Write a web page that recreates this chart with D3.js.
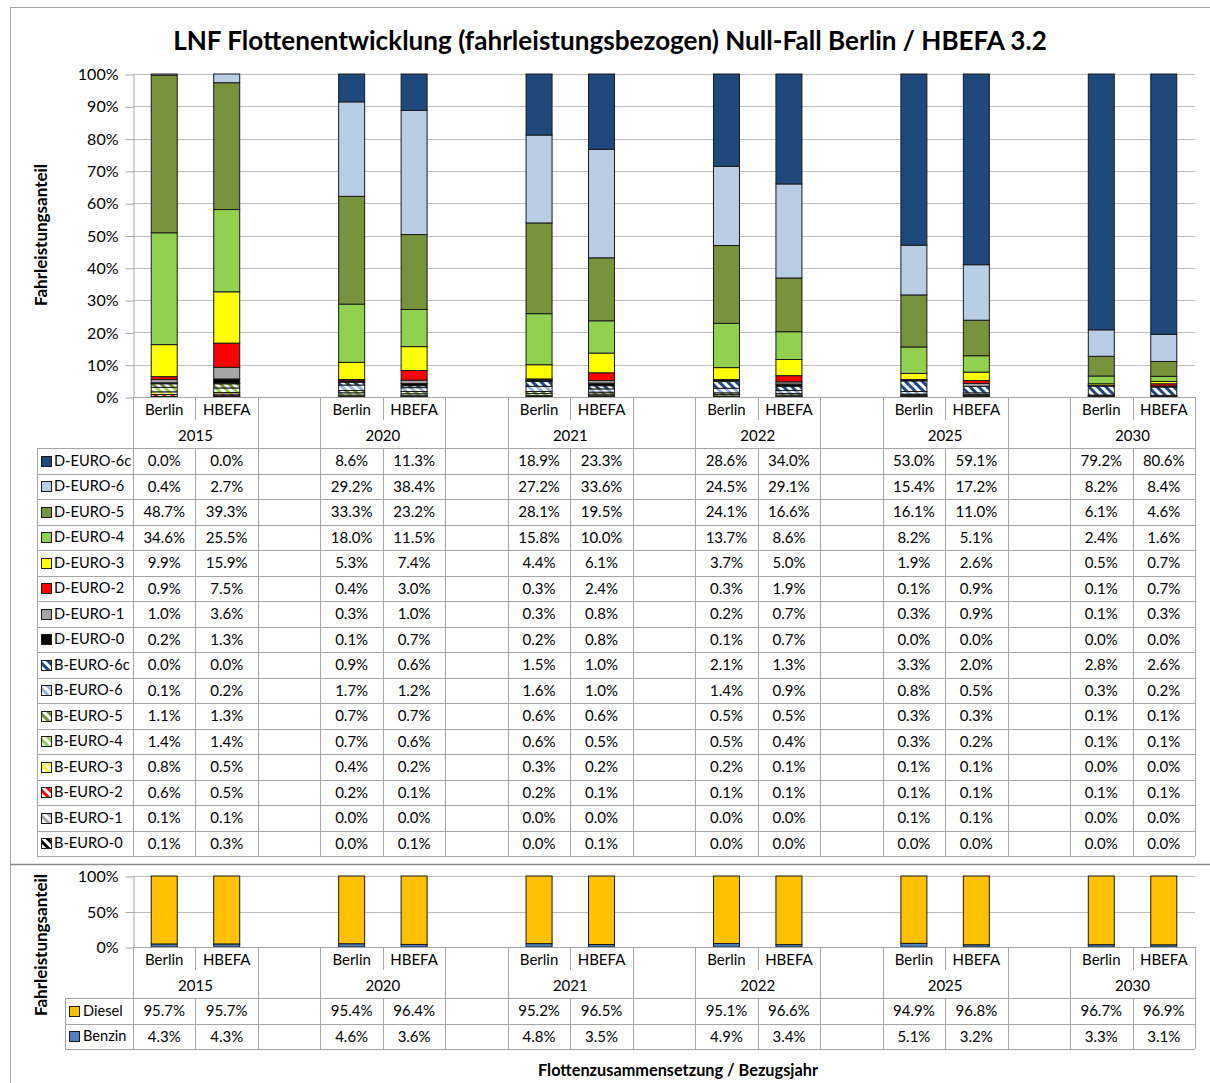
<!DOCTYPE html>
<html><head><meta charset="utf-8">
<script src="https://cdn.jsdelivr.net/npm/d3@7"></script>
<style>
body{margin:0;background:#fff}
svg text{font-family:Lato,"Open Sans",sans-serif;fill:#000}
</style>
</head><body>
<svg id="chart" width="1210" height="1083"></svg>
<script>
// ---------- DATA ----------
const title = "LNF Flottenentwicklung (fahrleistungsbezogen) Null-Fall Berlin / HBEFA 3.2";
const yAxisTitle = "Fahrleistungsanteil";
const xAxisTitle = "Flottenzusammensetzung / Bezugsjahr";
const years = ["2015", "2020", "2021", "2022", "2025", "2030"];
const scenarios = ["Berlin", "HBEFA"];
const topTicks = [0, 0.1, 0.2, 0.3, 0.4, 0.5, 0.6, 0.7, 0.8, 0.9, 1.0];
const bottomTicks = [0, 0.5, 1.0];

// values in order: 2015 Berlin, 2015 HBEFA, 2020 Berlin, 2020 HBEFA, ...
const dEuro6c = [0.0, 0.0, 8.6, 11.3, 18.9, 23.3, 28.6, 34.0, 53.0, 59.1, 79.2, 80.6];
const dEuro6  = [0.4, 2.7, 29.2, 38.4, 27.2, 33.6, 24.5, 29.1, 15.4, 17.2, 8.2, 8.4];
const dEuro5  = [48.7, 39.3, 33.3, 23.2, 28.1, 19.5, 24.1, 16.6, 16.1, 11.0, 6.1, 4.6];
const dEuro4  = [34.6, 25.5, 18.0, 11.5, 15.8, 10.0, 13.7, 8.6, 8.2, 5.1, 2.4, 1.6];
const dEuro3  = [9.9, 15.9, 5.3, 7.4, 4.4, 6.1, 3.7, 5.0, 1.9, 2.6, 0.5, 0.7];
const dEuro2  = [0.9, 7.5, 0.4, 3.0, 0.3, 2.4, 0.3, 1.9, 0.1, 0.9, 0.1, 0.7];
const dEuro1  = [1.0, 3.6, 0.3, 1.0, 0.3, 0.8, 0.2, 0.7, 0.3, 0.9, 0.1, 0.3];
const dEuro0  = [0.2, 1.3, 0.1, 0.7, 0.2, 0.8, 0.1, 0.7, 0.0, 0.0, 0.0, 0.0];
const bEuro6c = [0.0, 0.0, 0.9, 0.6, 1.5, 1.0, 2.1, 1.3, 3.3, 2.0, 2.8, 2.6];
const bEuro6  = [0.1, 0.2, 1.7, 1.2, 1.6, 1.0, 1.4, 0.9, 0.8, 0.5, 0.3, 0.2];
const bEuro5  = [1.1, 1.3, 0.7, 0.7, 0.6, 0.6, 0.5, 0.5, 0.3, 0.3, 0.1, 0.1];
const bEuro4  = [1.4, 1.4, 0.7, 0.6, 0.6, 0.5, 0.5, 0.4, 0.3, 0.2, 0.1, 0.1];
const bEuro3  = [0.8, 0.5, 0.4, 0.2, 0.3, 0.2, 0.2, 0.1, 0.1, 0.1, 0.0, 0.0];
const bEuro2  = [0.6, 0.5, 0.2, 0.1, 0.2, 0.1, 0.1, 0.1, 0.1, 0.1, 0.1, 0.1];
const bEuro1  = [0.1, 0.1, 0.0, 0.0, 0.0, 0.0, 0.0, 0.0, 0.1, 0.1, 0.0, 0.0];
const bEuro0  = [0.1, 0.3, 0.0, 0.1, 0.0, 0.1, 0.0, 0.0, 0.0, 0.0, 0.0, 0.0];

const diesel = [95.7, 95.7, 95.4, 96.4, 95.2, 96.5, 95.1, 96.6, 94.9, 96.8, 96.7, 96.9];
const benzin = [4.3, 4.3, 4.6, 3.6, 4.8, 3.5, 4.9, 3.4, 5.1, 3.2, 3.3, 3.1];

// table order (top to bottom); stacking goes bottom up (reverse)
const emissionSeries = [
  {name: "D-EURO-6c", values: dEuro6c, color: "#1F497D", hatch: false},
  {name: "D-EURO-6",  values: dEuro6,  color: "#B9CDE5", hatch: false},
  {name: "D-EURO-5",  values: dEuro5,  color: "#77933C", hatch: false},
  {name: "D-EURO-4",  values: dEuro4,  color: "#92D050", hatch: false},
  {name: "D-EURO-3",  values: dEuro3,  color: "#FFFF00", hatch: false},
  {name: "D-EURO-2",  values: dEuro2,  color: "#FF0000", hatch: false},
  {name: "D-EURO-1",  values: dEuro1,  color: "#A6A6A6", hatch: false},
  {name: "D-EURO-0",  values: dEuro0,  color: "#000000", hatch: false},
  {name: "B-EURO-6c", values: bEuro6c, color: "#1F497D", hatch: true},
  {name: "B-EURO-6",  values: bEuro6,  color: "#95B3D7", hatch: true},
  {name: "B-EURO-5",  values: bEuro5,  color: "#77933C", hatch: true},
  {name: "B-EURO-4",  values: bEuro4,  color: "#92D050", hatch: true},
  {name: "B-EURO-3",  values: bEuro3,  color: "#FFFF00", hatch: true},
  {name: "B-EURO-2",  values: bEuro2,  color: "#FF0000", hatch: true},
  {name: "B-EURO-1",  values: bEuro1,  color: "#A6A6A6", hatch: true},
  {name: "B-EURO-0",  values: bEuro0,  color: "#000000", hatch: true}
];
const fuelSeries = [
  {name: "Diesel", values: diesel, color: "#FFC000", hatch: false},
  {name: "Benzin", values: benzin, color: "#4F81BD", hatch: false}
];

// ---------- LAYOUT ----------
const svg = d3.select("#chart");
const plotL = 133, plotR = 1195;
const gridColor = "#BFBFBF";
const lineColor = "#A6A6A6";
const fontSize = 15;

// slots: Berlin, HBEFA, gap per year
const slots = [];
const cols = [];
years.forEach((y, i) => {
  scenarios.forEach(s => { slots.push(y + "|" + s); cols.push({year: y, scen: s, key: y + "|" + s}); });
  if (i < years.length - 1) slots.push(y + "|gap");
});
const x = d3.scaleBand().domain(slots).range([plotL, plotR]).padding(0);
const bw = x.bandwidth();
const barW = 26;

// patterns
const defs = svg.append("defs");
const patId = c => "hatch" + c.replace("#", "");
const hatchColors = Array.from(new Set(emissionSeries.filter(s => s.hatch).map(s => s.color)));
hatchColors.forEach(c => {
  const p = defs.append("pattern").attr("id", patId(c))
    .attr("patternUnits", "userSpaceOnUse").attr("width", 6).attr("height", 6)
    .attr("patternTransform", "rotate(45)");
  p.append("rect").attr("width", 6).attr("height", 6).attr("fill", "#fff");
  p.append("rect").attr("width", 6).attr("height", 3).attr("fill", c);
});
const fillOf = s => s.hatch ? `url(#${patId(s.color)})` : s.color;

// outer frame
svg.append("rect").attr("x", 10.5).attr("y", 7.5).attr("width", 1220).attr("height", 1100)
  .attr("fill", "none").attr("stroke", lineColor);
svg.append("line").attr("x1", 10).attr("x2", 1210).attr("y1", 864.5).attr("y2", 864.5)
  .attr("stroke", "#8C8C8C").attr("stroke-width", 1.5);

// title
const t = svg.append("text").attr("x", 610).attr("y", 50).attr("text-anchor", "middle")
  .attr("font-weight", "bold").attr("font-size", 28).text(title);
const tw = t.node().getComputedTextLength();
t.attr("font-size", 28 * 874 / tw);

function drawPanel(opts) {
  const {series, yTop, yBot, ticks, tableTop, tableLeft, swatchX, labelX, axisTitleY} = opts;
  const y = d3.scaleLinear().domain([0, 1]).range([yBot, yTop]);
  const g = svg.append("g");

  g.selectAll(".grid").data(ticks.filter(v => v > 0)).join("line")
    .attr("x1", plotL).attr("x2", plotR)
    .attr("y1", d => Math.round(y(d)) + 0.5).attr("y2", d => Math.round(y(d)) + 0.5)
    .attr("stroke", gridColor);

  const axis = d3.axisLeft(y).tickValues(ticks).tickFormat(d3.format(".0%"))
    .tickSize(8).tickSizeOuter(0).tickPadding(7);
  const ag = g.append("g").attr("transform", `translate(${plotL + 0.5},0.5)`).call(axis);
  ag.select(".domain").attr("stroke", lineColor);
  ag.selectAll(".tick line").attr("stroke", lineColor);
  ag.selectAll(".tick text").attr("font-size", 16).attr("font-family", "Lato, sans-serif").attr("fill", "#000");

  g.append("text").attr("transform", `translate(47,${axisTitleY}) rotate(-90)`)
    .attr("text-anchor", "middle").attr("font-weight", "bold").attr("font-size", 17)
    .text(yAxisTitle);

  const rows = cols.map((c, i) => {
    const r = {key: c.key};
    series.forEach(s => r[s.name] = s.values[i]);
    return r;
  });
  const stackKeys = series.map(s => s.name).slice().reverse();
  const stacked = d3.stack().keys(stackKeys).offset(d3.stackOffsetExpand)(rows);
  const sByName = new Map(series.map(s => [s.name, s]));
  g.selectAll(".layer").data(stacked).join("g")
    .attr("fill", d => fillOf(sByName.get(d.key)))
    .selectAll("rect").data(d => d).join("rect")
    .attr("x", d => x(d.data.key) + (bw - barW) / 2)
    .attr("width", barW)
    .attr("y", d => y(d[1]))
    .attr("height", d => Math.max(0, y(d[0]) - y(d[1])))
    .attr("stroke", d => (y(d[0]) - y(d[1])) > 0.05 ? "#1a1a1a" : "none")
    .attr("stroke-width", 1);

  const row1 = yBot + 25, row2 = tableTop;
  const lg = g.append("g").attr("stroke", lineColor).attr("shape-rendering", "crispEdges");
  lg.append("line").attr("x1", plotL).attr("x2", plotR).attr("y1", yBot + 0.5).attr("y2", yBot + 0.5);
  const rowH = 25.5;
  const tableBottom = tableTop + rowH * series.length;
  for (let k = 0; k <= slots.length; k++) {
    const bx = Math.round(plotL + k * bw) + 0.5;
    const leftSlot = slots[k - 1];
    const isInner = leftSlot && leftSlot.endsWith("|Berlin");
    if (isInner) {
      lg.append("line").attr("x1", bx).attr("x2", bx).attr("y1", yBot).attr("y2", row1 - 2);
      lg.append("line").attr("x1", bx).attr("x2", bx).attr("y1", tableTop).attr("y2", tableBottom);
    } else {
      lg.append("line").attr("x1", bx).attr("x2", bx).attr("y1", yBot).attr("y2", tableBottom);
    }
  }
  lg.append("line").attr("x1", tableLeft + 0.5).attr("x2", tableLeft + 0.5).attr("y1", tableTop).attr("y2", tableBottom);
  for (let i = 0; i <= series.length; i++) {
    const yy = Math.round(tableTop + i * rowH) + 0.5;
    lg.append("line").attr("x1", tableLeft).attr("x2", plotR).attr("y1", yy).attr("y2", yy);
  }

  g.selectAll(".scen").data(cols).join("text")
    .attr("x", d => x(d.key) + bw / 2).attr("y", yBot + 13).attr("dy", "0.35em")
    .attr("text-anchor", "middle").attr("font-size", fontSize).text(d => d.scen);
  g.selectAll(".yr").data(years).join("text")
    .attr("x", d => x(d + "|Berlin") + bw).attr("y", (row1 + row2) / 2 + 1).attr("dy", "0.35em")
    .attr("text-anchor", "middle").attr("font-size", fontSize).text(d => d);

  series.forEach((s, i) => {
    const cy = tableTop + rowH * (i + 0.5);
    g.append("rect").attr("x", swatchX + 0.5).attr("y", Math.round(cy - 5) + 0.5).attr("width", 10).attr("height", 10)
      .attr("fill", fillOf(s)).attr("stroke", "#1a1a1a");
    g.append("text").attr("x", labelX).attr("y", cy).attr("dy", "0.35em").attr("font-size", 14.6).text(s.name);
    g.selectAll(null).data(cols).join("text")
      .attr("x", d => x(d.key) + bw / 2).attr("y", cy).attr("dy", "0.35em")
      .attr("text-anchor", "middle").attr("font-size", fontSize)
      .text((d, j) => d3.format(".1f")(s.values[j]) + "%");
  });
}

drawPanel({series: emissionSeries, yTop: 74, yBot: 397, ticks: topTicks, tableTop: 448,
  tableLeft: 37, swatchX: 41, labelX: 54, axisTitleY: 235});
drawPanel({series: fuelSeries, yTop: 876, yBot: 947, ticks: bottomTicks, tableTop: 998,
  tableLeft: 65, swatchX: 69, labelX: 83, axisTitleY: 945});

svg.append("text").attr("x", 678).attr("y", 1070).attr("dy", "0.35em").attr("text-anchor", "middle")
  .attr("font-weight", "bold").attr("font-size", 16.3).text(xAxisTitle);
</script>
</body></html>
